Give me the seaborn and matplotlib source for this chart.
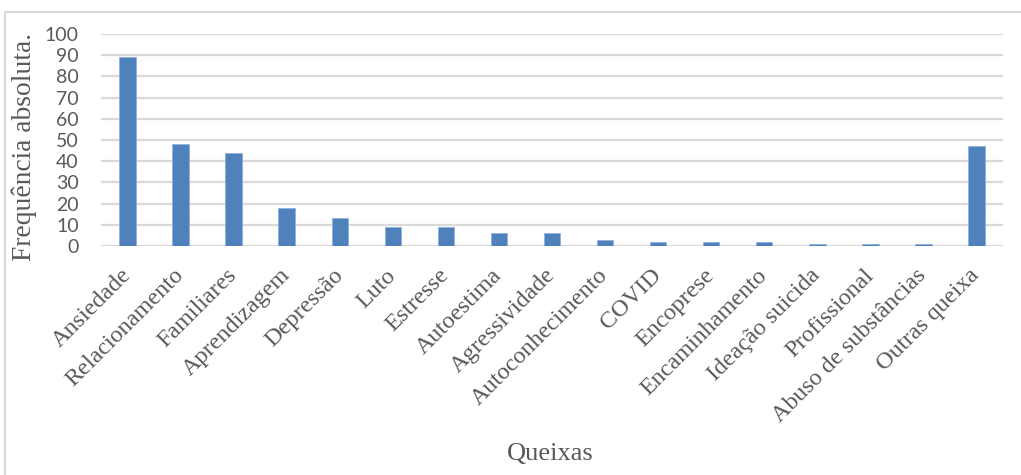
import matplotlib
matplotlib.use("Agg")
import matplotlib.pyplot as plt
from matplotlib.patches import Rectangle
import seaborn as sns
import pandas as pd

categorias = [
    "Ansiedade", "Relacionamento", "Familiares", "Aprendizagem", "Depressão",
    "Luto", "Estresse", "Autoestima", "Agressividade", "Autoconhecimento",
    "COVID", "Encoprese", "Encaminhamento", "Ideação suicida", "Profissional",
    "Abuso de substâncias", "Outras queixa",
]
frequencias = [89, 48, 44, 18, 13, 9, 9, 6, 6, 3, 2, 2, 2, 1, 1, 1, 47]
yticks = [0, 10, 20, 30, 40, 50, 60, 70, 80, 90, 100]

df = pd.DataFrame({"Queixas": categorias, "Frequência": frequencias})

sns.set_theme(style="white")
plt.rcParams["font.family"] = ["Liberation Serif", "DejaVu Serif"]

W, H = 1021, 475
fig = plt.figure(figsize=(W / 100, H / 100), dpi=100)
ax = fig.add_axes([101 / W, 1 - 246 / H, (1003 - 101) / W, (246 - 34) / H])

# chart area border
fig.patches.append(Rectangle((5 / W, -0.05), 1.1, 1 - 12 / H + 0.05,
                             transform=fig.transFigure, fill=False,
                             edgecolor="#d9d9d9", linewidth=1.5))

sns.barplot(data=df, x="Queixas", y="Frequência", ax=ax, color="#4f81bd",
            width=0.31, saturation=1, edgecolor="#8eb0d9", linewidth=0.6,
            zorder=3)

ax.set_ylim(0, 100)
ax.set_yticks(yticks)
ax.set_yticklabels([str(v) for v in yticks], family=["Lato", "DejaVu Sans"],
                   fontsize=14, color="#595959")
ax.yaxis.grid(True, color="#d9d9d9", linewidth=1.6, zorder=0)
ax.set_axisbelow(True)
for s in ax.spines.values():
    s.set_visible(False)
ax.tick_params(axis="y", length=0, pad=16)
ax.tick_params(axis="x", length=0, pad=19)

ax.set_xticks(range(len(categorias)))
ax.set_xticklabels(categorias, rotation=45, ha="right", va="center",
                   rotation_mode="anchor", fontsize=17.4, color="#595959")

ax.set_xlabel("Queixas", fontsize=19, color="#595959")
ax.set_ylabel("Frequência absoluta.", fontsize=19.8, color="#595959")
ax.xaxis.set_label_coords((550 - 101) / (1003 - 101), -(443 - 246) / (246 - 34))
ax.yaxis.set_label_coords(-(101 - 37) / (1003 - 101), (246 - 147) / (246 - 34))

fig.savefig("out.png", dpi=100)
